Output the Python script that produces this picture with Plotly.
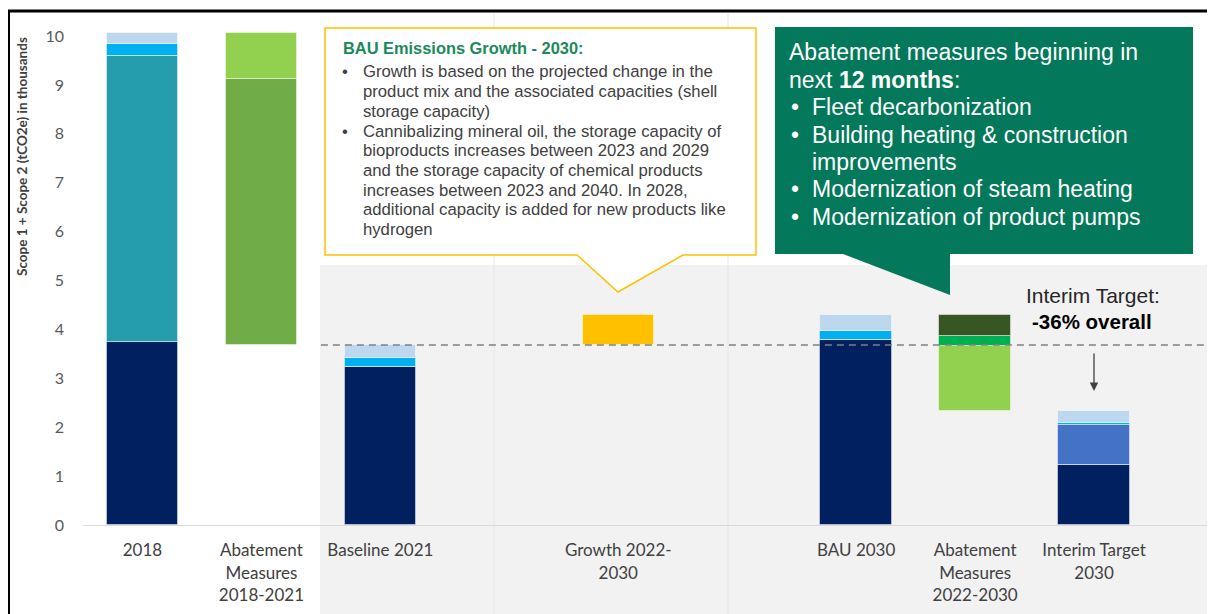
import numpy as np
import plotly.graph_objects as go

# ---------------- data ----------------
labels = ["2018", "Abatement<br>Measures<br>2018-2021", "Baseline 2021", "",
          "Growth 2022-<br>2030", "", "BAU 2030", "Abatement<br>Measures<br>2022-2030",
          "Interim Target<br>2030"]

# emission stacks (bottom -> top) at 2018, Baseline 2021, BAU 2030, Interim Target 2030
stack_cols = [0, 2, 6, 8]
navy = [3.75, 3.24, 3.78, 1.22]
teal = [5.85, 0.0, 0.0, 0.0]
mid_blue = [0.0, 0.0, 0.0, 0.82]
bright_blue = [0.24, 0.18, 0.19, 0.05]
light_blue = [0.22, 0.26, 0.32, 0.25]

# abatement 2018-2021 (bottom -> top)
abate1_col = 1
abate1_dark_green = 5.44
abate1_light_green = 0.94

# growth 2022-2030
growth_col = 4
growth_value = 0.61

# abatement 2022-2030 (bottom -> top)
abate2_col = 7
abate2_light_green = 1.32
abate2_green = 0.21
abate2_olive = 0.42

yellow_title = "BAU Emissions Growth - 2030:"
yellow_lines = ["Growth is based on the projected change in the",
                "product mix and the associated capacities (shell",
                "storage capacity)",
                "Cannibalizing mineral oil, the storage capacity of",
                "bioproducts increases between 2023 and 2029",
                "and the storage capacity of chemical products",
                "increases between 2023 and 2040. In 2028,",
                "additional capacity is added for new products like",
                "hydrogen"]
yellow_bullets = [0, 3]

green_header = ["Abatement measures beginning in", "next <b>12 months</b>:"]
green_lines = ["Fleet decarbonization",
               "Building heating & construction",
               "improvements",
               "Modernization of steam heating",
               "Modernization of product pumps"]
green_bullets = [0, 1, 3, 4]

# ---------------- layout geometry (screen pixels) ----------------
PAGE_MARGIN = 8          # browser default body margin
W_IMG, H_IMG = 1215, 614
L, R, T, B = 83, 1213, 16, 525
PW, PH = R - L, B - T


def px(x):
    return (x - L) / PW


def py(y):
    return (B - y) / PH


C_NAVY = "#002060"
C_TEAL = "#259DAD"
C_MID = "#4472C4"
C_BRIGHT = "#00B0F0"
C_LIGHT = "#BDD7EE"
C_DGREEN = "#70AD47"
C_LGREEN = "#92D050"
C_GREEN = "#00B050"
C_OLIVE = "#375623"
C_GOLD = "#FFC000"
EDGE = dict(color="rgba(255,255,255,0.45)", width=1)
BW = 0.6

fig = go.Figure()

# emission stacks
series = [(navy, C_NAVY), (teal, C_TEAL), (mid_blue, C_MID),
          (bright_blue, C_BRIGHT), (light_blue, C_LIGHT)]
vals = np.array([s[0] for s in series])
bases = np.vstack([np.zeros(len(stack_cols)), np.cumsum(vals, axis=0)[:-1]])
for (v, c), b in zip(series, bases):
    fig.add_bar(x=stack_cols, y=v, base=b, width=BW, marker=dict(color=c, line=EDGE),
                showlegend=False)

totals = dict(zip(stack_cols, vals.sum(axis=0)))
baseline_total = totals[2]
interim_total = totals[8]

# abatement 2018-2021
fig.add_bar(x=[abate1_col], y=[abate1_dark_green], base=[baseline_total], width=BW,
            marker=dict(color=C_DGREEN, line=EDGE), showlegend=False)
fig.add_bar(x=[abate1_col], y=[abate1_light_green], base=[baseline_total + abate1_dark_green],
            width=BW, marker=dict(color=C_LGREEN, line=EDGE), showlegend=False)

# growth
fig.add_bar(x=[growth_col], y=[growth_value], base=[baseline_total], width=BW,
            marker=dict(color=C_GOLD, line=EDGE), showlegend=False)

# abatement 2022-2030
b0 = interim_total
for v, c in [(abate2_light_green, C_LGREEN), (abate2_green, C_GREEN), (abate2_olive, C_OLIVE)]:
    fig.add_bar(x=[abate2_col], y=[v], base=[b0], width=BW,
                marker=dict(color=c, line=EDGE), showlegend=False)
    b0 += v

shapes = []
# grey background panel
shapes.append(dict(type="rect", xref="paper", yref="paper", x0=px(320), x1=px(1213),
                   y0=py(620), y1=py(265), fillcolor="#F2F2F2", line_width=0, layer="below"))
# faint vertical separators
for xv in (494, 728):
    shapes.append(dict(type="line", xref="paper", yref="paper", x0=px(xv), x1=px(xv),
                       y0=py(620), y1=py(14), line=dict(color="#E6E6E6", width=1),
                       layer="below"))
# dashed baseline reference
shapes.append(dict(type="line", xref="x", yref="y", x0=1.5, x1=9.0,
                   y0=baseline_total, y1=baseline_total,
                   line=dict(color="#808080", width=1.5, dash="7px,5px")))

# yellow callout
pts = [(325, 28), (756, 28), (756, 255), (683, 255), (618, 292), (577, 255), (325, 255)]
path = "M " + " L ".join(f"{px(a):.5f},{py(b):.5f}" for a, b in pts) + " Z"
shapes.append(dict(type="path", xref="paper", yref="paper", path=path,
                   fillcolor="white", line=dict(color=C_GOLD, width=1.5)))
# green callout
pts = [(775, 27), (1193, 27), (1193, 254), (950, 254), (950, 295), (843, 254), (775, 254)]
path = "M " + " L ".join(f"{px(a):.5f},{py(b):.5f}" for a, b in pts) + " Z"
shapes.append(dict(type="path", xref="paper", yref="paper", path=path,
                   fillcolor="#03785A", line=dict(width=0)))

# image frame (top and left)
shapes.append(dict(type="line", xref="paper", yref="paper", x0=px(PAGE_MARGIN), x1=px(W_IMG),
                   y0=py(11), y1=py(11), line=dict(color="black", width=3)))
shapes.append(dict(type="line", xref="paper", yref="paper", x0=px(PAGE_MARGIN + 1),
                   x1=px(PAGE_MARGIN + 1), y0=py(10), y1=py(H_IMG + 2),
                   line=dict(color="black", width=2)))

ann = []
ARIAL = "Liberation Sans, Arial, sans-serif"

# yellow box text
ann.append(dict(xref="paper", yref="paper", x=px(341), y=py(48), xanchor="left",
                yanchor="middle", text=f"<b>{yellow_title}</b>", showarrow=False,
                font=dict(family=ARIAL, size=16.4, color="#1B8A5A")))
for i, line in enumerate(yellow_lines):
    yy = 72 + i * 19.7
    ann.append(dict(xref="paper", yref="paper", x=px(361), y=py(yy), xanchor="left",
                    yanchor="middle", text=line, showarrow=False,
                    font=dict(family=ARIAL, size=16.7, color="#404040")))
    if i in yellow_bullets:
        ann.append(dict(xref="paper", yref="paper", x=px(340), y=py(yy), xanchor="left",
                        yanchor="middle", text="•", showarrow=False,
                        font=dict(family=ARIAL, size=16.7, color="#404040")))

# green box text
for i, line in enumerate(green_header):
    ann.append(dict(xref="paper", yref="paper", x=px(787), y=py(52 + i * 28), xanchor="left",
                    yanchor="middle", text=line, showarrow=False,
                    font=dict(family=ARIAL, size=23, color="white")))
for i, line in enumerate(green_lines):
    yy = 107 + i * 27.5
    ann.append(dict(xref="paper", yref="paper", x=px(810), y=py(yy), xanchor="left",
                    yanchor="middle", text=line, showarrow=False,
                    font=dict(family=ARIAL, size=23, color="white")))
    if i in green_bullets:
        ann.append(dict(xref="paper", yref="paper", x=px(789), y=py(yy), xanchor="left",
                        yanchor="middle", text="•", showarrow=False,
                        font=dict(family=ARIAL, size=23, color="white")))

# interim target text
ann.append(dict(xref="paper", yref="paper", x=px(1093), y=py(296), xanchor="center",
                yanchor="middle", text="Interim Target:", showarrow=False,
                font=dict(family=ARIAL, size=21, color="#262626")))
ann.append(dict(xref="paper", yref="paper", x=px(1092), y=py(321), xanchor="center",
                yanchor="middle", text="<b>-36% overall</b>", showarrow=False,
                font=dict(family=ARIAL, size=20.5, color="black")))
# arrow
ann.append(dict(xref="paper", yref="paper", x=px(1094), y=py(391), ax=0, ay=-39,
                text="", showarrow=True, arrowhead=2, arrowsize=1.3, arrowwidth=1.3,
                arrowcolor="#404040"))

# y axis title
ann.append(dict(xref="paper", yref="paper", x=px(22), y=py(157), xanchor="center",
                yanchor="middle", textangle=-90, showarrow=False,
                text="<b>Scope 1 + Scope 2 (tCO2e) in thousands</b>",
                font=dict(family="Lato, sans-serif", size=13.5, color="#404040")))

fig.update_layout(
    width=W_IMG - PAGE_MARGIN, height=H_IMG - PAGE_MARGIN,
    margin=dict(l=L - PAGE_MARGIN, r=W_IMG - R, t=T - PAGE_MARGIN, b=H_IMG - B, pad=0),
    paper_bgcolor="white", plot_bgcolor="rgba(0,0,0,0)",
    barmode="overlay", bargap=0,
    shapes=shapes, annotations=ann,
    xaxis=dict(range=[-0.5, 9.0], tickvals=list(range(len(labels))), ticktext=labels,
               showgrid=False, zeroline=False, showline=True, linecolor="#D9D9D9",
               linewidth=1, ticks="", ticklabelstandoff=10,
               tickfont=dict(family="Lato, sans-serif", size=17, color="#404040")),
    yaxis=dict(range=[0, PH / 48.9], tickvals=list(range(0, 11)), showgrid=False,
               zeroline=False, showline=False, ticks="", ticklabelstandoff=18,
               tickfont=dict(family="Lato, sans-serif", size=16, color="#595959")),
    font=dict(family="Lato, sans-serif"),
)

fig.write_html("out.html")
